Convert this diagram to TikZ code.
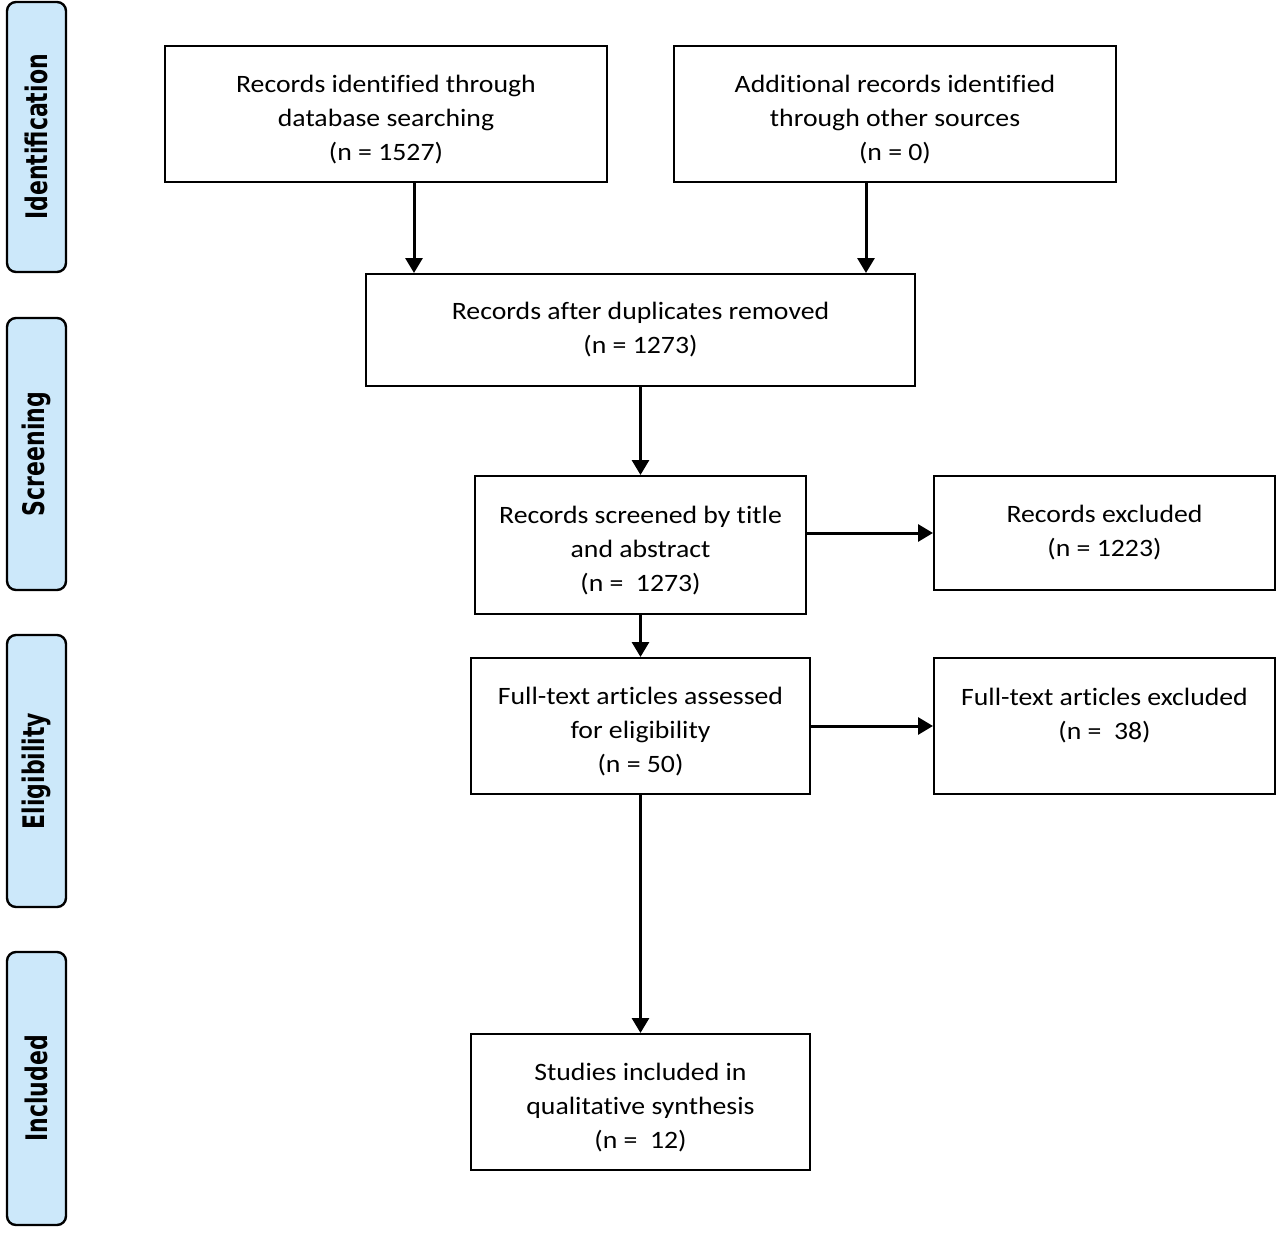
\documentclass[tikz,border=0pt]{standalone}
\usepackage{fontspec}
\setmainfont{Carlito}[FakeStretch=1.11, Ligatures=NoCommon]
\newfontfamily\sidefont{DejaVu Sans}
\usetikzlibrary{arrows.meta}
\definecolor{sideblue}{HTML}{CCE8FA}
\tikzset{
  box/.style={draw=black, line width=2pt, fill=white, align=center, inner sep=0pt,
    font=\fontsize{25}{34}\selectfont},
  side/.style={draw=black, line width=2.4pt, fill=sideblue, rounded corners=9pt,
    inner sep=0pt, font=\sidefont\bfseries\fontsize{22}{26}\selectfont},
  arr/.style={line width=3pt, -{Triangle[width=17pt,length=15pt]}},
}
\newcommand{\sidetext}[1]{\scalebox{1}[1.35]{#1}}
\newcommand{\topgap}[1]{\rule{0pt}{#1}}
\begin{document}
\begin{tikzpicture}[x=1pt,y=-1pt]
\useasboundingbox (0,0) rectangle (1280,1232);
% side labels
\node[side, rotate=90, minimum width=270pt, minimum height=59pt] (s1) at (36.5,137) {\sidetext{Identification}};
\node[side, rotate=90, minimum width=272pt, minimum height=59pt] (s2) at (36.5,454) {\sidetext{Screening}};
\node[side, rotate=90, minimum width=272pt, minimum height=59pt] (s3) at (36.5,771) {\sidetext{Eligibility}};
\node[side, rotate=90, minimum width=273pt, minimum height=59pt] (s4) at (36.5,1088.5) {\sidetext{Included}};
% boxes
\node[box, minimum width=442pt, minimum height=136pt] (A) at (386,114)
  {\topgap{29pt}Records identified through\\database searching\\(n = 1527)};
\node[box, minimum width=442pt, minimum height=136pt] (B) at (895,114)
  {\topgap{29pt}Additional records identified\\through other sources\\(n = 0)};
\node[box, minimum width=549pt, minimum height=112pt] (C) at (640.5,330)
  {Records after duplicates removed\\(n = 1273)};
\node[box, minimum width=331pt, minimum height=138pt] (D) at (640.5,545)
  {\topgap{29pt}Records screened by title\\and abstract\\(n = \ 1273)};
\node[box, minimum width=341pt, minimum height=114pt] (E) at (1104.5,533)
  {Records excluded\\(n = 1223)};
\node[box, minimum width=339pt, minimum height=136pt] (F) at (640.5,726)
  {\topgap{29pt}Full-text articles assessed\\for eligibility\\(n = 50)};
\node[box, minimum width=341pt, minimum height=136pt] (G) at (1104.5,726)
  {\topgap{26pt}Full-text articles excluded\\(n = \ 38)\\\mbox{}};
\node[box, minimum width=339pt, minimum height=136pt] (H) at (640.5,1102)
  {\topgap{29pt}Studies included in\\qualitative synthesis\\(n = \ 12)};
% connectors
\draw[arr] ([xshift=28pt]A.south) -- ([xshift=28pt]A.south |- C.north);
\draw[arr] ([xshift=-29pt]B.south) -- ([xshift=-29pt]B.south |- C.north);
\draw[arr] (C.south) -- (D.north);
\draw[arr] (E.west -| D.east) -- (E.west);
\draw[arr] (D.south) -- (F.north);
\draw[arr] (F.east) -- (G.west);
\draw[arr] (F.south) -- (H.north);
\end{tikzpicture}
\end{document}
